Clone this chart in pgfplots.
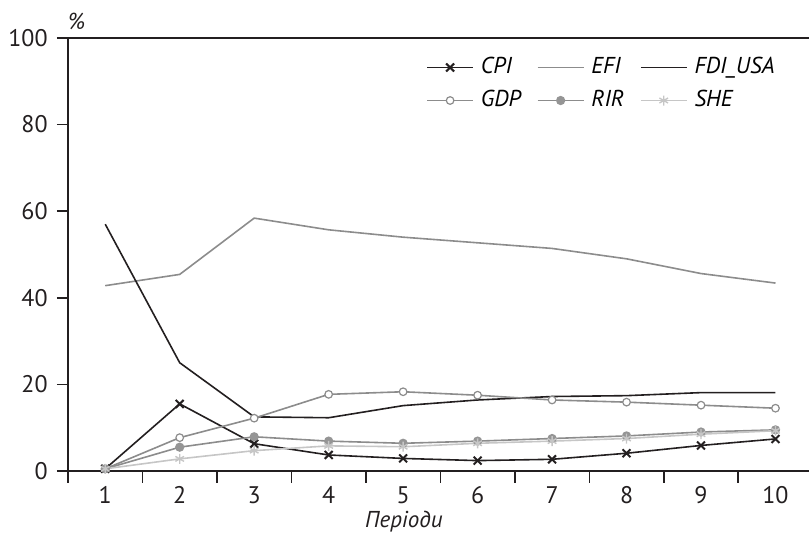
\documentclass[border=0pt]{standalone}
\usepackage{pgfplots}
\pgfplotsset{compat=1.18}
\usepackage{fontspec}
\setmainfont{PT Sans}
\definecolor{ink}{HTML}{231F20}
\definecolor{midgray}{HTML}{8C8C8C}
\definecolor{dotgray}{HTML}{959595}
\definecolor{lightgray}{HTML}{C6C6C6}
\begin{document}
\fontsize{11.5}{13.5}\selectfont
\begin{tikzpicture}
\path[use as bounding box] (-34pt,-31.5pt) rectangle (370.5pt,235.5pt);
\begin{axis}[
  scale only axis,
  width=370.5pt, height=216.5pt,
  xmin=0.5, xmax=10.45,
  ymin=0, ymax=100,
  axis x line*=bottom, axis y line*=left,
  axis line style={ink, line width=1pt, -},
  xtick={1,...,10},
  ytick={0,20,...,100},
  xtick style={draw=none},
  ytick style={ink, line width=0.8pt},
  tick align=outside,
  major tick length=5.5pt,
  extra x ticks={0.5,1.5,...,9.5},
  extra x tick labels={},
  extra x tick style={xtick style={draw=ink, line width=0.8pt}, major tick length=6pt},
  /pgf/number format/assume math mode=true,
  ticklabel style={font=\fontsize{12}{14}\selectfont, text=ink},
  yticklabel style={inner sep=0pt, xshift=-4.5pt},
  xticklabel style={inner sep=0pt, yshift=-2pt},
  legend columns=3,
  legend cell align=left,
  legend style={draw=none, fill=none, inner sep=0pt,
    at={(rel axis cs:0.483,0.957)}, anchor=north west,
    font=\itshape\fontsize{11.5}{13.5}\selectfont,
    nodes={inner sep=0pt, text height=8pt, text depth=2.5pt},
    row sep=6pt,
    /tikz/every odd column/.append style={column sep=3.5pt},
    /tikz/every even column/.append style={column sep=8pt}},
  legend image code/.code={\draw[mark repeat=2,mark phase=2] plot coordinates {(0pt,0pt) (11.5pt,0pt) (23pt,0pt)};},
  clip=false,
]
\addplot[ink, line width=0.8pt, mark=x, mark size=2.8pt, mark options={line width=1pt}] coordinates {
(1,0.5) (2,15.5) (3,6.3) (4,3.7) (5,2.9) (6,2.4) (7,2.7) (8,4.1) (9,5.9) (10,7.4)};
\addlegendentry{CPI}
\addplot[midgray, line width=0.8pt, mark=none] coordinates {
(1,42.8) (2,45.4) (3,58.4) (4,55.7) (5,54.0) (6,52.7) (7,51.4) (8,49.0) (9,45.6) (10,43.4)};
\addlegendentry{EFI}
\addplot[ink, line width=0.8pt, mark=none] coordinates {
(1,57.0) (2,25.0) (3,12.5) (4,12.3) (5,15.1) (6,16.4) (7,17.2) (8,17.4) (9,18.1) (10,18.1)};
\addlegendentry{FDI\_USA}
\addplot[midgray, line width=0.8pt, mark=*, mark size=1.9pt, mark options={fill=white, draw=midgray, line width=0.6pt}] coordinates {
(1,0.5) (2,7.7) (3,12.2) (4,17.7) (5,18.3) (6,17.5) (7,16.4) (8,15.9) (9,15.2) (10,14.5)};
\addlegendentry{GDP}
\addplot[midgray, line width=0.8pt, mark=*, mark size=1.9pt, mark options={fill=dotgray, draw=dotgray}] coordinates {
(1,0.5) (2,5.5) (3,7.9) (4,6.9) (5,6.4) (6,6.9) (7,7.5) (8,8.1) (9,9.0) (10,9.5)};
\addlegendentry{RIR}
\addplot[lightgray, line width=0.8pt, mark=asterisk, mark size=2.5pt, mark options={line width=0.7pt}] coordinates {
(1,0.5) (2,2.8) (3,4.7) (4,5.8) (5,5.6) (6,6.4) (7,6.9) (8,7.5) (9,8.5) (10,9.3)};
\addlegendentry{SHE}
\draw[ink, line width=1pt] (rel axis cs:0,1) -- (rel axis cs:1,1);
\node[anchor=base west, inner sep=0pt, font=\itshape, text=ink] at ([yshift=4pt]rel axis cs:0,1) {\%};
\node[anchor=base, inner sep=0pt, font=\itshape, text=ink] at ([yshift=-28.5pt]axis cs:5.01,0) {Періоди};
\end{axis}
\end{tikzpicture}
\end{document}
